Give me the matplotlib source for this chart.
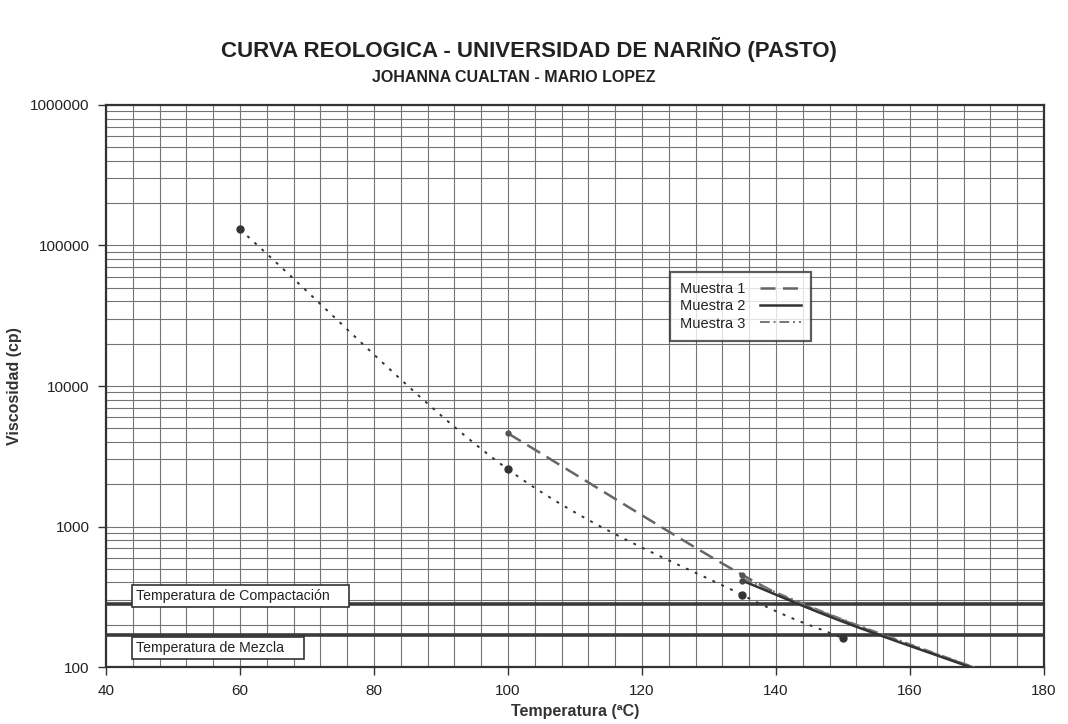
import numpy as np
import matplotlib
matplotlib.use("Agg")
from matplotlib import pyplot as plt
from matplotlib.ticker import FixedLocator, LogLocator, NullFormatter

plt.rcParams['font.family'] = ['Liberation Sans', 'DejaVu Sans']

# temperatures (C) and viscosities (cp) per sample
temp_m1 = [100, 135, 150, 170]
visc_m1 = [4600, 452, 215, 97]

temp_m2 = [135, 150, 170]
visc_m2 = [411, 210, 96]

temp_m3 = [135, 150, 170]
visc_m3 = [428, 218, 98]

# original asphalt curve (smoothed, with markers)
temp_orig = [60, 100, 135, 150]
visc_orig = [130000, 2550, 325, 160]

# reference viscosities for compaction / mixing
visc_compactacion = 280
visc_mezcla = 170


def smooth(x, y, n=30):
    # Catmull-Rom through the points, in (T, log10 visc)
    x = np.asarray(x, float)
    ly = np.log10(y)
    px = np.concatenate([[2 * x[0] - x[1]], x, [2 * x[-1] - x[-2]]])
    py = np.concatenate([[2 * ly[0] - ly[1]], ly, [2 * ly[-1] - ly[-2]]])
    xs, ys = [], []
    for i in range(1, len(px) - 2):
        t = np.linspace(0, 1, n, endpoint=False)
        for p, out in ((px, xs), (py, ys)):
            p0, p1, p2, p3 = p[i - 1], p[i], p[i + 1], p[i + 2]
            out.append(0.5 * ((2 * p1) + (-p0 + p2) * t
                              + (2 * p0 - 5 * p1 + 4 * p2 - p3) * t ** 2
                              + (-p0 + 3 * p1 - 3 * p2 + p3) * t ** 3))
    xs.append([x[-1]])
    ys.append([ly[-1]])
    return np.concatenate(xs), 10 ** np.concatenate(ys)


fig = plt.figure(figsize=(10.68, 7.24), dpi=100)
ax = fig.add_axes([0.0993, 0.0787, 0.8782, 0.7763])

ax.set_xlim(40, 180)
ax.set_yscale('log')
ax.set_ylim(100, 1000000)

ax.xaxis.set_major_locator(FixedLocator(np.arange(40, 181, 20)))
ax.xaxis.set_minor_locator(FixedLocator(np.arange(40, 181, 4)))
ax.yaxis.set_major_locator(LogLocator(base=10))
ax.yaxis.set_minor_locator(LogLocator(base=10, subs=np.arange(2, 10)))
ax.yaxis.set_minor_formatter(NullFormatter())
ax.set_yticks([100, 1000, 10000, 100000, 1000000])
ax.set_yticklabels(['100', '1000', '10000', '100000', '1000000'])

ax.grid(True, which='both', color='#747474', linewidth=0.8)
ax.set_axisbelow(True)
ax.tick_params(which='minor', length=0)
ax.tick_params(which='major', length=6, width=1, color='#333333',
               labelsize=11, labelcolor='#222222', pad=6)
for s in ax.spines.values():
    s.set_linewidth(1.6)
    s.set_color('#333333')

# reference lines
ax.axhline(visc_compactacion, color='#3a3a3a', linewidth=2.6, zorder=3)
ax.axhline(visc_mezcla, color='#3a3a3a', linewidth=2.6, zorder=3)

box = dict(boxstyle='square,pad=0.28', facecolor='white',
           edgecolor='#333333', linewidth=1.2)
ax.text(44.5, 318, 'Temperatura de Compactación    ', fontsize=10.2,
        color='#222222', va='center', ha='left', bbox=box, zorder=5)
ax.text(44.5, 136, 'Temperatura de Mezcla    ', fontsize=10.2,
        color='#222222', va='center', ha='left', bbox=box, zorder=5)

# samples
sx, sy = smooth(temp_orig, visc_orig)
ax.plot(sx, sy, color='#333333', linestyle=(0, (1.5, 3.5)), linewidth=1.4,
        zorder=4)
ax.plot(temp_orig, visc_orig, 'o', color='#333333', markersize=5, zorder=4)

m1x, m1y = smooth(temp_m1, visc_m1)
ax.plot(m1x, m1y, color='#666666', linestyle=(0, (6, 3)), linewidth=1.8,
        label='Muestra 1', zorder=4)
ax.plot(temp_m1[:2], visc_m1[:2], 'o', color='#555555', markersize=3.5,
        zorder=4)

m3x, m3y = smooth(temp_m3, visc_m3)
ax.plot(m3x, m3y, color='#777777', linestyle=(0, (5, 2, 1, 2)),
        linewidth=1.4, label='Muestra 3', zorder=4)

m2x, m2y = smooth(temp_m2, visc_m2)
ax.plot(m2x, m2y, color='#333333', linestyle='-', linewidth=1.8,
        label='Muestra 2', zorder=4)
ax.plot(temp_m2[:1], visc_m2[:1], 'o', color='#444444', markersize=3.5,
        zorder=4)

h, l = ax.get_legend_handles_labels()
order = [l.index('Muestra 1'), l.index('Muestra 2'), l.index('Muestra 3')]
leg = ax.legend([h[i] for i in order], [l[i] for i in order],
                loc='upper left', bbox_to_anchor=(0.601, 0.703),
                markerfirst=False, fontsize=10.5, handlelength=2.8,
                frameon=True, fancybox=False, shadow=False,
                borderpad=0.7, labelspacing=0.22, handletextpad=1.0,
                borderaxespad=0)
leg.get_frame().set_edgecolor('#333333')
leg.get_frame().set_linewidth(1.6)
for t in leg.get_texts():
    t.set_color('#222222')

ax.set_xlabel('Temperatura (ªC)', fontsize=11.5, fontweight='bold',
              color='#333333')
ax.xaxis.set_label_coords(0.5, -0.066)
ax.set_ylabel('Viscosidad (cp)', fontsize=11.5, fontweight='bold',
              color='#333333')
ax.yaxis.set_label_coords(-0.09, 0.5)

fig.text(0.495, 0.932, 'CURVA REOLOGICA - UNIVERSIDAD DE NARIÑO (PASTO)',
         ha='center', va='center', fontsize=16, fontweight='bold',
         color='#222222')
fig.text(0.481, 0.893, 'JOHANNA CUALTAN - MARIO LOPEZ', ha='center',
         va='center', fontsize=11.5, fontweight='bold', color='#222222')

fig.savefig('out.png', dpi=100, facecolor='white')
